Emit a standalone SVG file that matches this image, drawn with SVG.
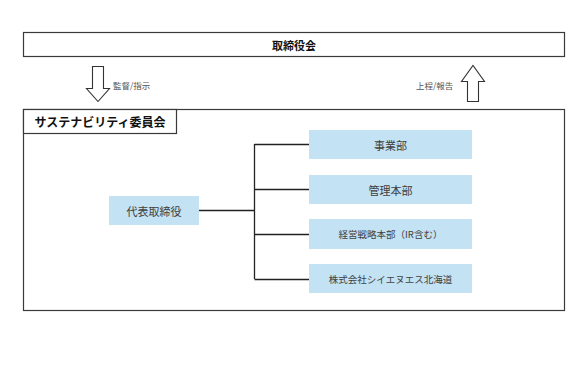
<svg xmlns="http://www.w3.org/2000/svg" width="588" height="367" viewBox="0 0 588 367">
<defs>
<style>
.frame{fill:#ffffff;stroke:#3a3a3a;stroke-width:1.2}
.unit{fill:#c3e2f4}
.t{font-family:"Noto Sans CJK JP","Noto Sans",sans-serif;fill:#404040;text-anchor:middle;dominant-baseline:central}
.b{font-weight:bold;fill:#111111}
.lbl{font-family:"Noto Sans CJK JP","Noto Sans",sans-serif;fill:#555555;font-size:8.5px;dominant-baseline:central}
.arrow{fill:#ffffff;stroke:#333333;stroke-width:1.1}
.conn{fill:none;stroke:#222222;stroke-width:1.3}
</style>
</defs>
<rect width="588" height="367" fill="#ffffff"/>
<g id="board">
<rect class="frame" x="23.5" y="32.5" width="541" height="24"/>
<text class="t b" x="294" y="44.5" font-size="11">取締役会</text>
</g>
<g id="arrow-down">
<path class="arrow" d="M92.5,66.5 H103.5 V88.5 H109.5 L98,101.5 L86.5,88.5 H92.5 Z"/>
<text class="lbl" x="113" y="84.5">監督/指示</text>
</g>
<g id="arrow-up">
<path class="arrow" d="M467.5,101.5 H478.5 V81.5 H484.5 L473,65.5 L461.5,81.5 H467.5 Z"/>
<text class="lbl" x="416" y="84.5">上程/報告</text>
</g>
<g id="committee">
<rect class="frame" x="23.5" y="109.5" width="541" height="201"/>
<rect class="frame" x="23.5" y="109.5" width="153" height="24"/>
<text class="t b" x="100" y="121.5" font-size="12">サステナビリティ委員会</text>
</g>
<g id="connectors">
<path class="conn" d="M199,210.5 H254.5 M254.5,144 V279 M254.5,144.5 H309 M254.5,189.5 H309 M254.5,234.5 H309 M254.5,279.5 H309"/>
</g>
<g id="ceo">
<rect class="unit" x="109" y="196" width="90" height="29"/>
<text class="t" x="154" y="210.5" font-size="11">代表取締役</text>
</g>
<g id="business">
<rect class="unit" x="309" y="130" width="163" height="29"/>
<text class="t" x="390.5" y="144.5" font-size="11">事業部</text>
</g>
<g id="admin">
<rect class="unit" x="309" y="175" width="163" height="29"/>
<text class="t" x="390.5" y="189.5" font-size="11">管理本部</text>
</g>
<g id="strategy">
<rect class="unit" x="309" y="219" width="163" height="30"/>
<text class="t" x="390.5" y="234" font-size="9.5">経営戦略本部（IR含む）</text>
</g>
<g id="cns">
<rect class="unit" x="309" y="264" width="163" height="29"/>
<text class="t" x="390.5" y="278.5" font-size="9.5">株式会社シイエヌエス北海道</text>
</g>
</svg>
